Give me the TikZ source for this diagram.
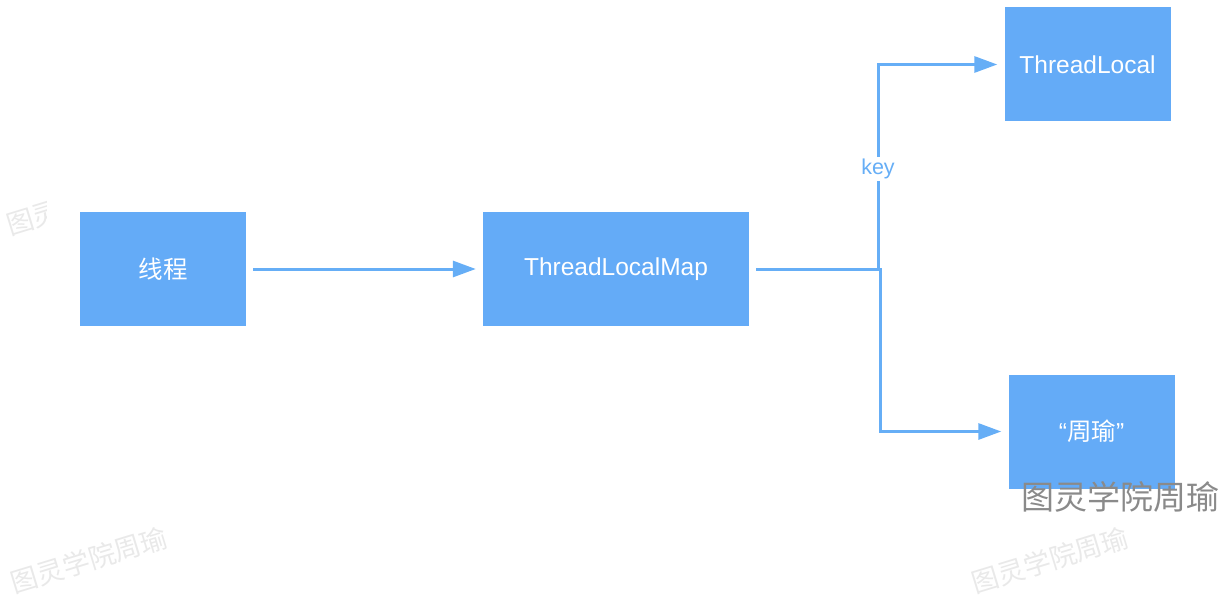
\documentclass[tikz,border=0pt]{standalone}
\usepackage{fontspec}
\setmainfont{Liberation Sans}
\newfontfamily\cjk{Noto Sans CJK SC}
\usetikzlibrary{arrows.meta}
\definecolor{boxblue}{HTML}{64ABF7}
\definecolor{lineblue}{HTML}{66AEF6}
\definecolor{wmfaint}{HTML}{E9E9E9}
\definecolor{wmgray}{HTML}{8A8A8A}
\tikzset{
  box/.style={fill=boxblue, minimum width=166pt, minimum height=114pt, inner sep=0pt,
              text=white, font=\fontsize{24.5}{27}\selectfont},
  widebox/.style={box, minimum width=266pt},
  conn/.style={draw=lineblue, line width=3pt, shorten <=7pt, shorten >=7pt,
               -{Triangle[length=23pt,width=16pt]}},
  keylabel/.style={fill=white, text=lineblue, inner sep=2pt, font=\fontsize{21.5}{24}\selectfont},
  faintwm/.style={text=wmfaint, font=\cjk\fontsize{27}{30}\selectfont, rotate=17, inner sep=0pt},
  wm/.style={text=wmgray, font=\cjk\fontsize{33}{36}\selectfont, inner sep=0pt}
}
\begin{document}
\begin{tikzpicture}[x=1pt,y=-1pt]
\useasboundingbox (0,0) rectangle (1225,596);
% faint watermarks
\node[faintwm] (wm1) at (89,560) {图灵学院周瑜};
\node[faintwm] (wm2) at (1050,560) {图灵学院周瑜};
\begin{scope}
\clip (0,190) rectangle (46,250);
\node[faintwm, anchor=west] (wm3) at (7,226) {图灵};
\end{scope}
% boxes
\node[box] (th) at (163,269) {\cjk 线程};
\node[widebox] (tlm) at (616,269) {ThreadLocalMap};
\node[box] (tl) at (1087.5,64.5) {ThreadLocal};
\node[box] (zy) at (1091.5,431.5) {“{\cjk 周瑜}”};
% connectors
\draw[conn] (th) -- (tlm);
\draw[conn] (tlm.east) -- ++(129,0) |- (tl.west);
\draw[conn] (tlm.east) -- ++(131,0) |- (zy.west);
\node[keylabel] (key) at (878,169) {key};
% watermark
\node[wm] (wm0) at (1120,497) {图灵学院周瑜};
\end{tikzpicture}
\end{document}
